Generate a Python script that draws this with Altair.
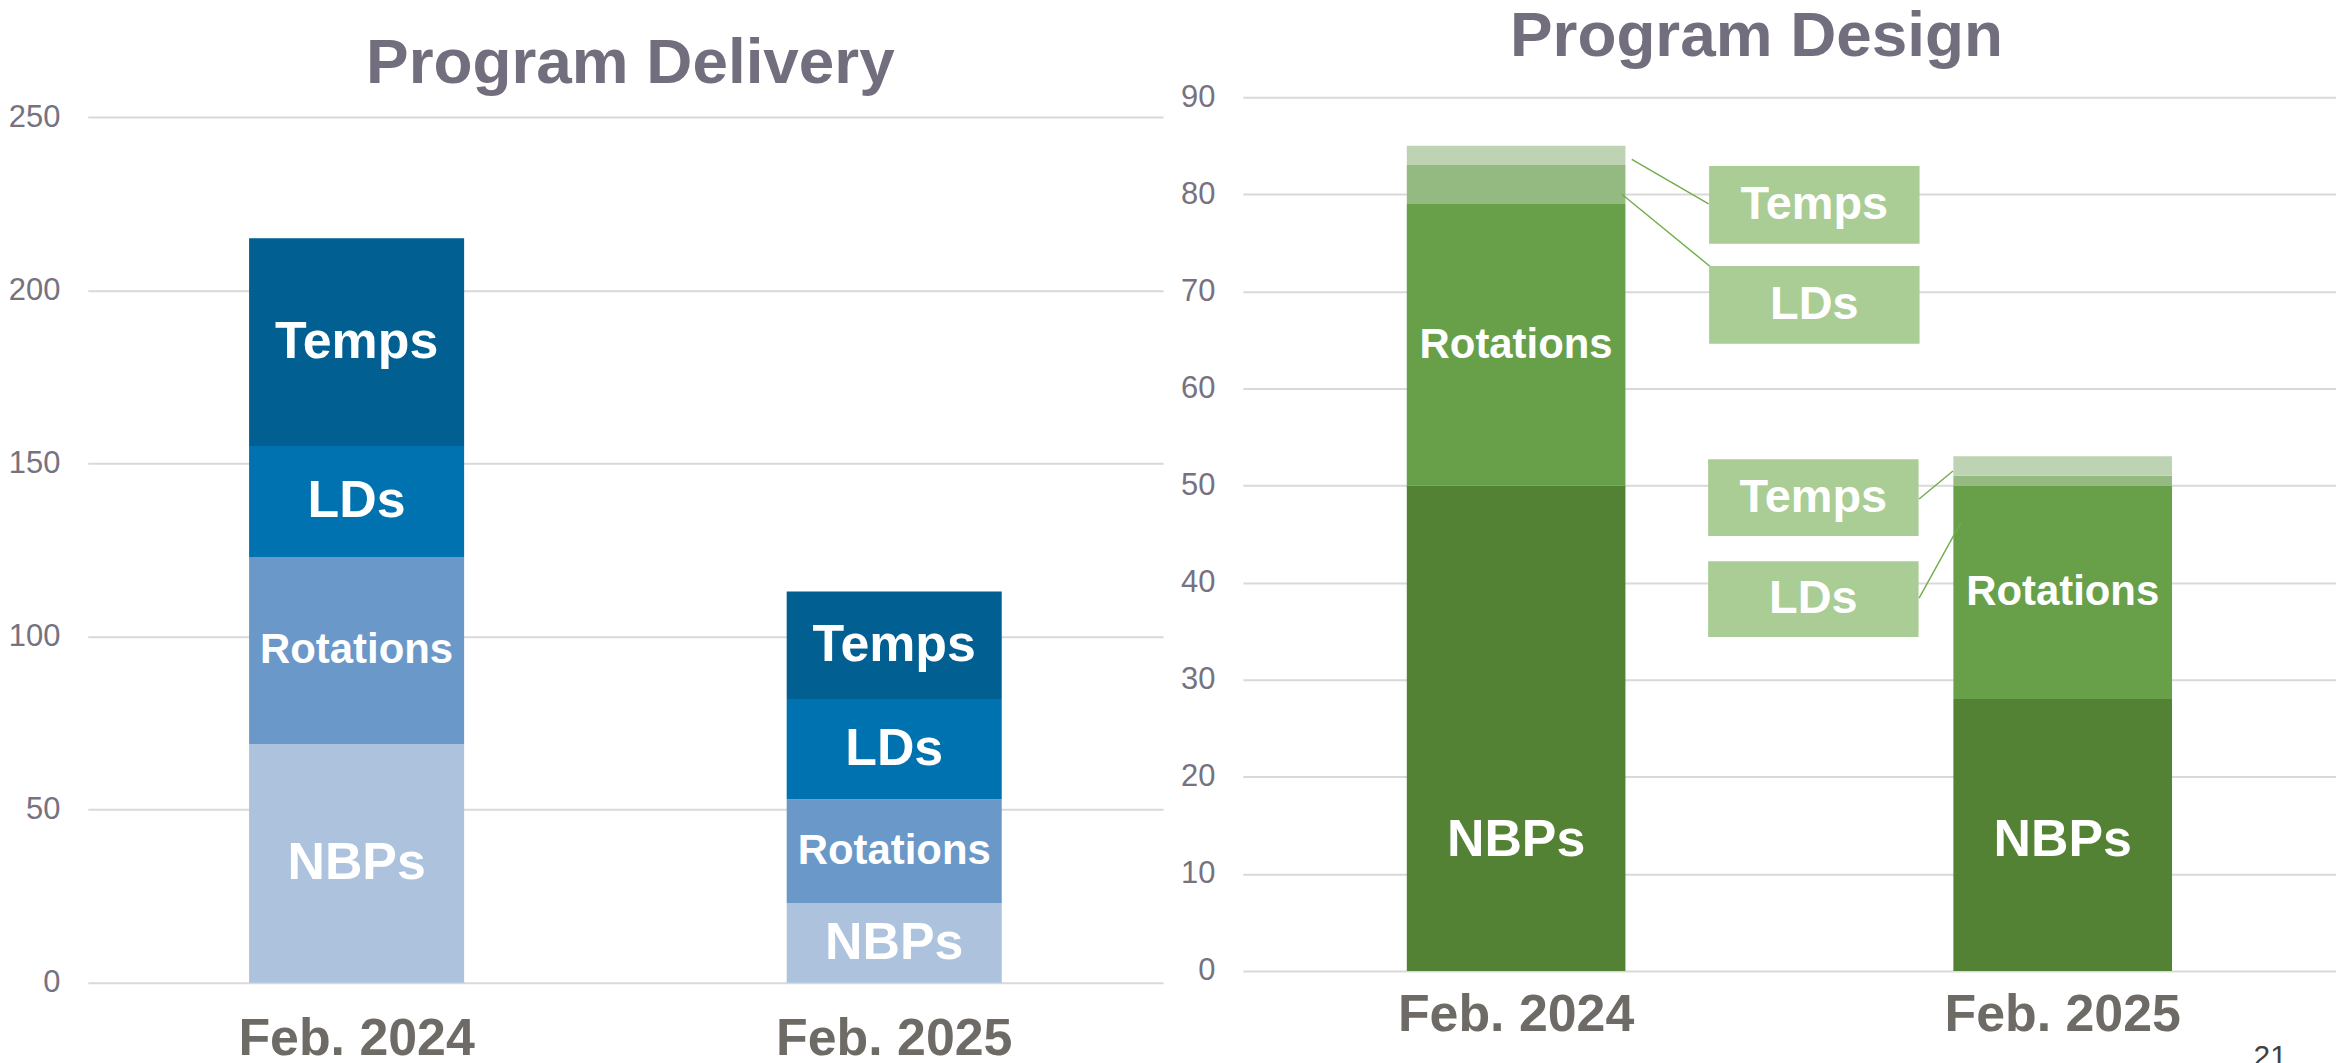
import altair as alt
import pandas as pd

# ---------------- data ----------------
periods = ["Feb. 2024", "Feb. 2025"]
categories = ["NBPs", "Rotations", "LDs", "Temps"]

delivery_feb2024 = [69, 54, 32, 60]
delivery_feb2025 = [23, 30, 29, 31]
design_feb2024 = [50, 29, 4, 2]
design_feb2025 = [28, 22, 1, 2]

delivery_ticks = [0, 50, 100, 150, 200, 250]
design_ticks = [0, 10, 20, 30, 40, 50, 60, 70, 80, 90]

callout_periods = ["Feb. 2024", "Feb. 2024", "Feb. 2025", "Feb. 2025"]
callout_labels = ["Temps", "LDs", "Temps", "LDs"]

# ---------------- style / layout ----------------
FONT = "Liberation Sans"
TITLE_COLOR = "#736e7e"
AXIS_COLOR = "#77727f"
XLAB_COLOR = "#6e6b67"
GRID_COLOR = "#d9d9d9"
BLUE = ["#adc2dc", "#6a98c8", "#0172b0", "#015f91"]
GREEN = ["#548235", "#68a04a", "#94b981", "#bed2b4"]
BOX_COLOR = "#a9cd95"
LINE_COLOR = "#70ad47"

LEFT_W, LEFT_H = 1078, 888
RIGHT_W, RIGHT_H = 1096, 876

# callout box extents (in y units of the design chart) and leader lines
BOX_LO = [74.9, 64.6, 44.8, 34.4]
BOX_HI = [82.9, 72.6, 52.7, 42.2]
LINE_FROM_Y = [83.6, 80.0, 48.6, 38.4]
LINE_TO_Y = [79.0, 72.1, 51.5, 46.2]
LINE_FROM_DX = [116, 106, -144, -144]
LINE_TO_DX = [193, 200, -110, -102]
BOX_DX = {"Feb. 2024": 299, "Feb. 2025": -250}
DESIGN_NBP_LABEL_Y = 13.5


def stacked(series):
    rows = []
    for period, vals in series.items():
        base = 0
        for i, (cat, v) in enumerate(zip(categories, vals)):
            rows.append(dict(period=period, category=cat, order=i, start=base,
                             end=base + v, mid=base + v / 2))
            base += v
    return pd.DataFrame(rows)


deliv = stacked({"Feb. 2024": delivery_feb2024, "Feb. 2025": delivery_feb2025})
design = stacked({"Feb. 2024": design_feb2024, "Feb. 2025": design_feb2025})
design["label_y"] = [DESIGN_NBP_LABEL_Y if c == "NBPs" else m
                     for c, m in zip(design["category"], design["mid"])]

callouts = pd.DataFrame(dict(period=callout_periods, label=callout_labels,
                             lo=BOX_LO, hi=BOX_HI,
                             mid=[(a + b) / 2 for a, b in zip(BOX_LO, BOX_HI)],
                             y1=LINE_FROM_Y, y2=LINE_TO_Y))


def x_enc(pad):
    return alt.X("period:N", sort=periods,
                 scale=alt.Scale(domain=periods, paddingInner=0.6, paddingOuter=0.3),
                 axis=alt.Axis(title=None, labelAngle=0, labelFont=FONT, labelFontSize=52,
                               labelFontWeight="bold", labelColor=XLAB_COLOR, ticks=False,
                               tickSize=0, domain=False, grid=False, labelPadding=pad,
                               labelLimit=0))


def y_axis(vals):
    return alt.Axis(title=None, values=vals, labelFont=FONT, labelFontSize=31,
                    labelColor=AXIS_COLOR, ticks=False, tickSize=0, domain=False,
                    gridColor=GRID_COLOR, gridWidth=2, labelPadding=28)


# ---------------- left: Program Delivery ----------------
yl = alt.Y("start:Q", scale=alt.Scale(domain=[0, 250], range=[LEFT_H, 20], nice=False),
           axis=y_axis(delivery_ticks))

left_bars = alt.Chart(deliv).mark_bar().encode(
    x=x_enc(31), y=yl, y2="end:Q",
    color=alt.Color("category:N", scale=alt.Scale(domain=categories, range=BLUE), legend=None),
)
left_big = alt.Chart(deliv).transform_filter("datum.category != 'Rotations'").mark_text(
    font=FONT, fontSize=52, fontWeight="bold", color="white", baseline="middle"
).encode(x=alt.X("period:N", sort=periods), y=alt.Y("mid:Q"), text="category:N")
left_rot = alt.Chart(deliv).transform_filter("datum.category == 'Rotations'").mark_text(
    font=FONT, fontSize=42, fontWeight="bold", color="white", baseline="middle"
).encode(x=alt.X("period:N", sort=periods), y=alt.Y("mid:Q"), text="category:N")

left = alt.layer(left_bars, left_big, left_rot).properties(
    width=LEFT_W, height=LEFT_H,
    title=alt.TitleParams("Program Delivery", font=FONT, fontSize=64, fontWeight="bold",
                          color=TITLE_COLOR, anchor="middle", frame="group", offset=1, dx=5),
)

# ---------------- right: Program Design ----------------
yr = alt.Y("start:Q", scale=alt.Scale(domain=[0, 90], nice=False), axis=y_axis(design_ticks))

right_bars = alt.Chart(design).mark_bar().encode(
    x=x_enc(19), y=yr, y2="end:Q",
    color=alt.Color("category:N", scale=alt.Scale(domain=categories, range=GREEN), legend=None),
)
right_nbp = alt.Chart(design).transform_filter("datum.category == 'NBPs'").mark_text(
    font=FONT, fontSize=52, fontWeight="bold", color="white", baseline="middle"
).encode(x=alt.X("period:N", sort=periods), y=alt.Y("label_y:Q"), text="category:N")
right_rot = alt.Chart(design).transform_filter("datum.category == 'Rotations'").mark_text(
    font=FONT, fontSize=42, fontWeight="bold", color="white", baseline="middle"
).encode(x=alt.X("period:N", sort=periods), y=alt.Y("label_y:Q"), text="category:N")

layers = [right_bars, right_nbp, right_rot]
for i in range(len(callouts)):
    one = callouts.iloc[[i]]
    layers.append(alt.Chart(one).mark_rule(
        color=LINE_COLOR, strokeWidth=1.4, xOffset=LINE_FROM_DX[i], x2Offset=LINE_TO_DX[i]
    ).encode(x=alt.X("period:N", sort=periods), x2="period:N",
             y=alt.Y("y1:Q"), y2="y2:Q"))
for p in periods:
    sub = callouts[callouts["period"] == p]
    layers.append(alt.Chart(sub).mark_bar(width=211, xOffset=BOX_DX[p], color=BOX_COLOR).encode(
        x=alt.X("period:N", sort=periods), y=alt.Y("lo:Q", stack=None), y2="hi:Q"))
    layers.append(alt.Chart(sub).mark_text(
        font=FONT, fontSize=47, fontWeight="bold", color="white", baseline="middle",
        xOffset=BOX_DX[p]
    ).encode(x=alt.X("period:N", sort=periods), y=alt.Y("mid:Q"), text="label:N"))

page_no = alt.Chart(pd.DataFrame({"t": ["21"]})).mark_text(
    font=FONT, fontSize=30, color="#404040", baseline="top", align="center"
).encode(x=alt.value(1030), y=alt.value(947), text="t:N")
layers.append(page_no)

right = alt.layer(*layers).properties(
    width=RIGHT_W, height=RIGHT_H,
    title=alt.TitleParams("Program Design", font=FONT, fontSize=64, fontWeight="bold",
                          color=TITLE_COLOR, anchor="middle", frame="group", offset=12, dx=-33),
)

chart = alt.hconcat(left, right, spacing=80, bounds="flush").resolve_scale(
    color="independent"
).configure_view(
    stroke=None
).properties(padding={"top": -4, "left": 0, "right": 0, "bottom": 0}, background="white")

chart.save("out.html", embed_options={"renderer": "svg", "actions": False})
